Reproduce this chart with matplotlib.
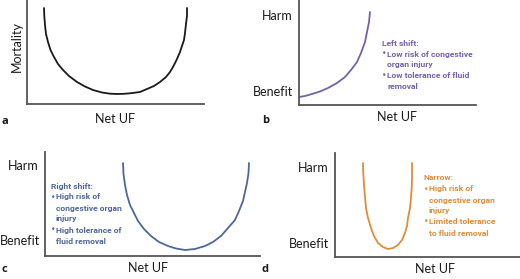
import matplotlib
matplotlib.use("Agg")
import matplotlib.pyplot as plt

W, H = 520, 279
plt.rcParams["font.family"] = ["Lato", "DejaVu Sans"]

# curve points (pixels from each panel's origin)
a_x = [17, 17.3, 18, 19, 21, 23.5, 27, 31, 36, 42, 50, 58, 66, 75, 83, 90, 97,
       104, 113, 120, 127, 133, 139, 143, 146, 150, 153, 155, 157, 158, 159, 160, 160]
a_y = [96, 88, 79, 70, 62, 54, 47, 40, 34, 28, 22, 17.5, 14, 11.5, 10.3, 10, 10.2,
       10.8, 12, 15, 18, 22, 27, 32, 37, 45, 52, 58, 64, 71, 80, 88, 96]

b_x = [0, 6, 13, 21, 29, 38, 46, 52, 58, 62, 66, 68, 70, 71]
b_y = [8, 9, 11, 13.5, 17, 22, 28, 35, 43, 52, 63, 73, 83, 93]

c_x = [78, 78.5, 80, 82, 85, 89, 93, 99, 106, 114, 123, 131, 140, 150, 160, 168,
       176, 183, 190, 194, 198, 200, 202, 203.5, 204]
c_y = [93, 82, 71, 61, 51, 43, 35, 27, 20, 14, 10, 7.5, 6, 7, 10, 14,
       20, 28, 36, 45, 55, 64, 73, 83, 93]

d_x = [28, 28.3, 29, 30, 31, 33, 36, 39, 43, 48, 53, 58, 63, 67, 70, 72, 73,
       75, 76, 76.7, 77, 77]
d_y = [94, 83, 72, 60, 49, 39, 29, 21, 14, 10, 8, 9, 12, 17, 24, 31, 39,
       49, 59, 69, 79, 94]

# (bullet?, text) per line of each note
b_note = [(False, "Left shift:"), (True, "Low risk of congestive"), (False, "organ injury"),
          (True, "Low tolerance of fluid"), (False, "removal")]
c_note = [(False, "Right shift:"), (True, "High risk of"), (False, "congestive organ"),
          (False, "injury"), (True, "High tolerance of"), (False, "fluid removal")]
d_note = [(False, "Narrow:"), (True, "High risk of"), (False, "congestive organ"),
          (False, "injury"), (True, "Limited tolerance"), (False, "to fluid removal")]

BLACK = "#1a1a1a"
PURPLE = "#7561a8"
BLUE = "#4f6798"
ORANGE = "#e08c38"
AXIS = "#555555"

fig = plt.figure(figsize=(W / 100, H / 100), dpi=100)


def fx(x):
    return x / W


def fy(y):
    return 1 - y / H


def panel(left, bottom, right, top, xs, ys, color):
    ax = fig.add_axes([fx(left), fy(bottom), (right - left) / W, (bottom - top) / H])
    ax.set_xlim(0, right - left)
    ax.set_ylim(0, bottom - top)
    ax.plot(xs, ys, color=color, lw=1.3, solid_capstyle="round", solid_joinstyle="round")
    for s in ("top", "right"):
        ax.spines[s].set_visible(False)
    for s in ("left", "bottom"):
        ax.spines[s].set_color(AXIS)
        ax.spines[s].set_linewidth(1.3)
    ax.set_xticks([])
    ax.set_yticks([])
    ax.patch.set_alpha(0)
    return ax


def note(x, y, lines, color, step=11):
    style = dict(color=color, fontsize=6.1, family=["Roboto", "DejaVu Sans"],
                 fontweight="bold", ha="left", va="center")
    for i, (bullet, t) in enumerate(lines):
        yy = fy(y + i * step)
        if i == 0:
            fig.text(fx(x), yy, t, **style)
            continue
        if bullet:
            fig.text(fx(x), yy, "\u2022", color=color, fontsize=5.5,
                     family="DejaVu Sans", ha="left", va="center")
        fig.text(fx(x + 5), yy, t, **style)


panel(27, 104, 204, 0, a_x, a_y, BLACK)
panel(299, 105, 476, 0, b_x, b_y, PURPLE)
panel(45, 256, 260, 152, c_x, c_y, BLUE)
panel(335, 257, 520, 153, d_x, d_y, ORANGE)

lab = dict(fontsize=9.0, color=BLACK, va="center")
fig.text(fx(17), fy(47), "Mortality", rotation=90, ha="center", **lab)
fig.text(fx(115), fy(119), "Net UF", ha="center", **lab)
fig.text(fx(397), fy(117), "Net UF", ha="center", **lab)
fig.text(fx(148), fy(268), "Net UF", ha="center", **lab)
fig.text(fx(435), fy(269), "Net UF", ha="center", **lab)

fig.text(fx(293), fy(16), "Harm", ha="right", **lab)
fig.text(fx(293), fy(92), "Benefit", ha="right", **lab)
fig.text(fx(39), fy(166), "Harm", ha="right", **lab)
fig.text(fx(40), fy(241), "Benefit", ha="right", **lab)
fig.text(fx(329), fy(168), "Harm", ha="right", **lab)
fig.text(fx(329), fy(244), "Benefit", ha="right", **lab)

for x, y, t in [(1, 121, "a"), (262, 120, "b"), (1, 270, "c"), (262, 270, "d")]:
    fig.text(fx(x), fy(y), t, fontsize=8, fontweight="bold", color=BLACK,
             family=["Open Sans", "DejaVu Sans"], ha="left", va="center")

note(382, 43, b_note, PURPLE)
note(51, 186, c_note, BLUE)
note(424, 178, d_note, ORANGE)

fig.savefig("out.png", dpi=100)
